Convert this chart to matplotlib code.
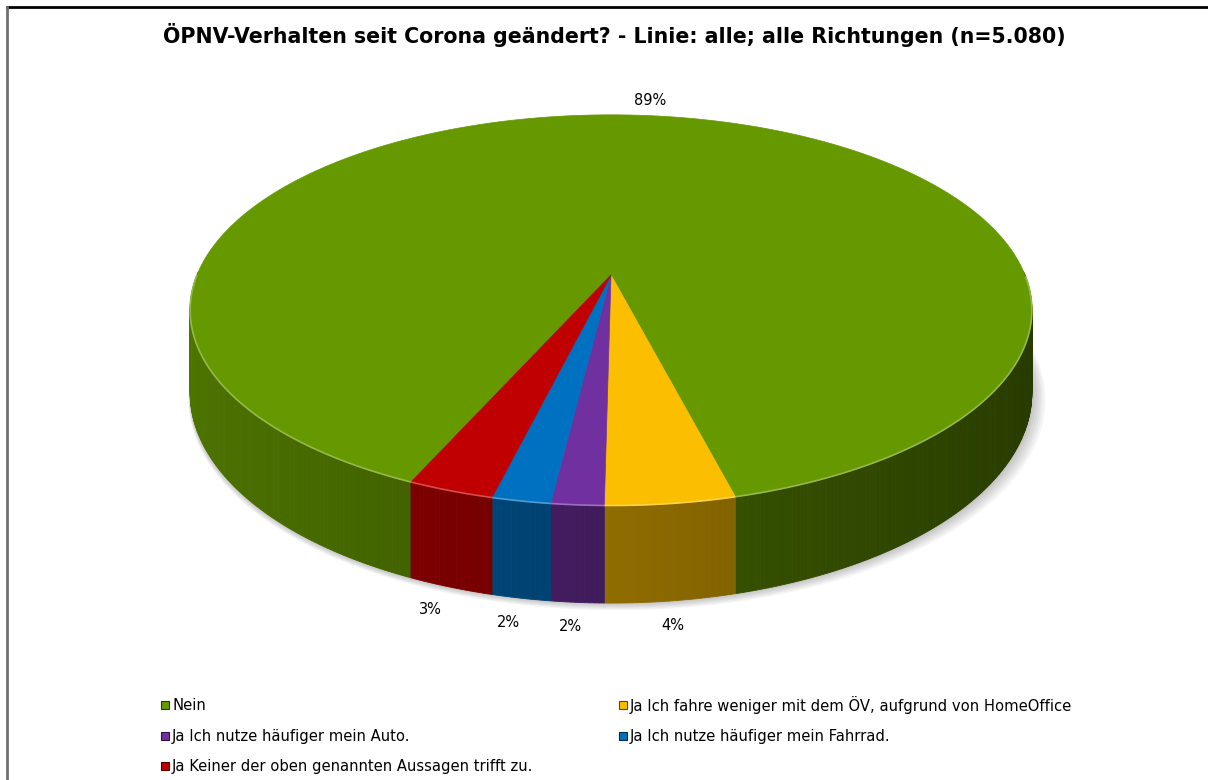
"""
3D-style pie chart: ÖPNV-Verhalten seit Corona.
"""

import matplotlib
matplotlib.use("Agg")
import matplotlib.pyplot as plt
from matplotlib.colors import to_rgb
import numpy as np

# Data
title = "ÖPNV-Verhalten seit Corona geändert? - Linie: alle; alle Richtungen (n=5.080)"
categories = [
    "Nein",
    "Ja Ich fahre weniger mit dem ÖV, aufgrund von HomeOffice",
    "Ja Ich nutze häufiger mein Auto.",
    "Ja Ich nutze häufiger mein Fahrrad.",
    "Ja Keiner der oben genannten Aussagen trifft zu.",
]
shares = [89.4, 4.2, 1.7, 1.9, 2.8]
colors = ["#669900", "#FBBE00", "#7030A0", "#0070C0", "#C00000"]

# pie geometry in pixel coordinates
CX, CY = 611, 275
A, B = 414, 189
K = 0.18          # perspective strength
DEPTH = 80        # height of the cylinder wall
START = 246.2     # first slice begins here, going clockwise


def project(theta, r=1.0, drop=0.0):
    t = np.radians(theta)
    u, v = r * np.cos(t), r * np.sin(t)
    w = 1.0 / (1.0 + K * v)
    return CX + A * u * w, CY - B * v * w + drop * w


def shade(color, theta):
    f = 0.57 - 0.19 * np.cos(np.radians(theta))
    return tuple(c * f for c in to_rgb(color))


def lighten(color, f=0.3):
    return tuple(c + (1 - c) * f for c in to_rgb(color))


fig = plt.figure(figsize=(12.08, 7.8), dpi=100)
ax = fig.add_axes([0, 0, 1, 1])
ax.set_xlim(0, 1208)
ax.set_ylim(780, 0)
ax.axis("off")

# frame
ax.plot([7, 1208], [7, 7], color="black", lw=2)
ax.plot([7, 7], [7, 780], color="#707070", lw=2)

ax.text(614, 35, title, ha="center", va="center", fontsize=14.8, fontweight="bold")

bounds = START - np.concatenate([[0], np.cumsum(shares)]) / 100 * 360

# soft shadow under the base of the cake
th_all = np.linspace(0, 360, 400)
bx, by = project(th_all, drop=DEPTH)
for i in range(6, 0, -1):
    s = 1 + 0.003 * i
    ax.fill(CX + (bx - CX) * s + 1.0 * i, by + 1.2 * i,
            color="black", alpha=0.04, lw=0)

# side walls (front half only)
for s0, s1, col in zip(bounds[:-1], bounds[1:], colors):
    th = np.linspace(s0, s1, max(int(abs(s0 - s1) / 0.5), 2))
    for a0, a1 in zip(th[:-1], th[1:]):
        mid = (a0 + a1) / 2
        if np.sin(np.radians(mid)) >= 0.02:
            continue
        x0, y0 = project(a0)
        x1, y1 = project(a1)
        x2, y2 = project(a1, drop=DEPTH)
        x3, y3 = project(a0, drop=DEPTH)
        c = shade(col, mid)
        ax.fill([x0, x1, x2, x3], [y0, y1, y2, y3], color=c, ec=c, lw=0.6)

# top face
for s0, s1, col in zip(bounds[:-1], bounds[1:], colors):
    th = np.linspace(s0, s1, max(int(abs(s0 - s1) * 2), 3))
    xs, ys = project(th)
    ax.fill(np.r_[CX, xs], np.r_[CY, ys], color=col, ec=col, lw=0.5)
    # light rim along the front edge, one run at a time
    is_front = np.sin(np.radians(th)) < 0
    runs = np.split(np.arange(len(th)), np.where(np.diff(is_front.astype(int)) != 0)[0] + 1)
    for run in runs:
        if len(run) > 1 and is_front[run[0]]:
            fx, fy = project(th[run])
            ax.plot(fx, fy, color=lighten(col), lw=1.2, solid_capstyle="butt")

# data labels
for s0, s1, val in zip(bounds[:-1], bounds[1:], shares):
    mid = (s0 + s1) / 2
    if np.sin(np.radians(mid)) < 0:
        lx, ly = project(mid, 1.08, DEPTH)
        lx -= 4
    else:
        lx, ly = project(mid, 1.11)
        lx += 8
    ax.text(lx, ly, f"{val:.0f}%", ha="center", va="center", fontsize=10.5)

# legend, two columns
for i, (lab, col) in enumerate(zip(categories, colors)):
    lx = [160, 618][i % 2]
    ly = [705, 736, 766][i // 2]
    ax.add_patch(plt.Rectangle((lx + 1, ly - 4), 8, 8, fc=col,
                               ec=shade(col, 0), lw=0.8))
    ax.text(lx + 12, ly, lab, ha="left", va="center", fontsize=10.6)

plt.savefig("out.png", dpi=100)
